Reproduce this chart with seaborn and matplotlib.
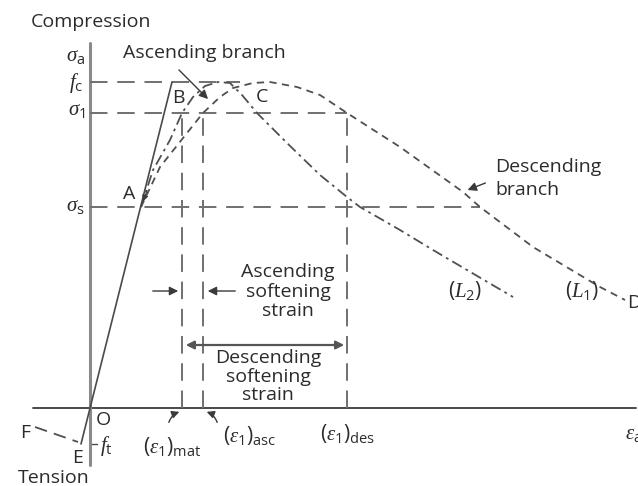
import matplotlib
matplotlib.use("Agg")
import matplotlib.pyplot as plt
import seaborn as sns
import pandas as pd

sns.set_theme(style="white")
plt.rcParams["font.family"] = ["Open Sans", "DejaVu Sans"]
plt.rcParams["mathtext.fontset"] = "custom"
plt.rcParams["mathtext.rm"] = "Open Sans"
plt.rcParams["mathtext.it"] = "Liberation Serif:italic"

# ---- schematic values (strain on x, stress on y; origin at O) ----
fc = 326
sigma_1 = 295
sigma_s = 201
ft = -36
eps_mat = 92
eps_asc = 113
eps_des = 257
point_A = (51, 201)

linear_x = [-9, 82]
linear_y = [-36, 326]
tension_x = [-55, -12]
tension_y = [-19, -34]

L2_x = [51, 63, 80, 92, 103, 115, 128, 140, 152, 167, 197, 230, 257, 270, 310, 343, 377, 423]
L2_y = [201, 238, 268, 295, 311, 322, 326, 325, 313, 295, 265, 233, 211, 201, 178, 158, 138, 111]

L1_x = [51, 70, 97, 113, 130, 143, 163, 180, 207, 230, 257, 310, 373, 390, 443, 510, 535]
L1_y = [201, 241, 275, 295, 311, 320, 325, 326, 321, 313, 295, 261, 216, 201, 161, 121, 108]

TXT = "#2b2b2b"
LINE = "#4a4a4a"
GRID = "#707070"

fig = plt.figure(figsize=(6.38, 4.86), dpi=100)
ax = fig.add_axes([0, 0, 1, 1])
ax.set_xlim(-90, 548)
ax.set_ylim(-78, 408)
ax.axis("off")

# axes
ax.plot([-57, 546], [0, 0], color="#3a3a3a", lw=1.3)
ax.plot([0, 0], [-57, 365], color="#8a8a8a", lw=2.2)

# reference dashed lines
dash = dict(color=GRID, lw=1.4, linestyle=(0, (9, 5)))
ax.plot([0, 150], [fc, fc], **dash)
ax.plot([0, eps_des], [sigma_1, sigma_1], **dash)
ax.plot([0, 390], [sigma_s, sigma_s], **dash)
for xv in (eps_mat, eps_asc, eps_des):
    ax.plot([xv, xv], [0, sigma_1], **dash)

# curves
df2 = pd.DataFrame({"x": L2_x, "y": L2_y})
df1 = pd.DataFrame({"x": L1_x, "y": L1_y})
sns.lineplot(data=df2, x="x", y="y", ax=ax, sort=False, estimator=None,
             color="#505050", lw=1.3, linestyle=(0, (6, 2.5, 1.5, 2.5)))
sns.lineplot(data=df1, x="x", y="y", ax=ax, sort=False, estimator=None,
             color="#505050", lw=1.3, linestyle=(0, (4, 3)))
sns.lineplot(x=linear_x, y=linear_y, ax=ax, sort=False, estimator=None,
             color=LINE, lw=1.2)
sns.lineplot(x=tension_x, y=tension_y, ax=ax, sort=False, estimator=None,
             color="#505050", lw=1.3, linestyle=(0, (7, 4)))
ax.plot([2, 7], [ft, ft], color=LINE, lw=1.0)

# arrows
arr = dict(arrowstyle="-|>", color="#3a3a3a", lw=1.0, mutation_scale=13)
ax.annotate("", xy=(120, 307), xytext=(87, 340), arrowprops=arr)
ax.annotate("", xy=(375, 217), xytext=(398, 226), arrowprops=arr)
ax.annotate("", xy=(91, 117), xytext=(60, 117), arrowprops=arr)
ax.annotate("", xy=(115, 117), xytext=(148, 117), arrowprops=arr)
ax.annotate("", xy=(93, 63), xytext=(257, 63),
            arrowprops=dict(arrowstyle="<|-|>", color="#555555", lw=1.6, mutation_scale=12))
ax.annotate("", xy=(92, -3), xytext=(78, -17),
            arrowprops=dict(arrowstyle="-|>", color="#3a3a3a", lw=1.0, mutation_scale=11,
                            connectionstyle="arc3,rad=-0.3"))
ax.annotate("", xy=(114, -3), xytext=(128, -17),
            arrowprops=dict(arrowstyle="-|>", color="#3a3a3a", lw=1.0, mutation_scale=11,
                            connectionstyle="arc3,rad=0.3"))
ax.annotate("", xy=(52, 204), xytext=(58, 220),
            arrowprops=dict(arrowstyle="-|>", color="#3a3a3a", lw=0.8, mutation_scale=9))

FS = 14
MS = 15
def t(x, y, s, ha="left", va="center", size=FS):
    ax.text(x, y, s, ha=ha, va=va, fontsize=size, color=TXT)

t(-59, 386, "Compression")
t(-5, 353, r"$\sigma_{\mathrm{a}}$", ha="right", size=MS)
t(-7, 325, r"$f_{\mathrm{c}}$", ha="right", size=MS)
t(-5, 298, r"$\sigma_{1}$", ha="right", size=MS)
t(-5, 203, r"$\sigma_{\mathrm{s}}$", ha="right", size=MS)
t(39, 214, "A", ha="center")
t(88, 310, "B", ha="center")
t(172, 311, "C", ha="center")
t(33, 355, "Ascending branch")
t(6, -12, "O")
t(-12, -50, "E", ha="center")
t(-65, -25, "F", ha="center")
t(-72, -70, "Tension")
t(10, -38, r"$f_{\mathrm{t}}$", size=MS)
t(198, 136, "Ascending", ha="center")
t(198, 116, "softening", ha="center")
t(198, 97, "strain", ha="center")
t(178, 50, "Descending", ha="center")
t(178, 31, "softening", ha="center")
t(178, 13, "strain", ha="center")
t(82, -38, r"$(\varepsilon_{1})_{\mathrm{mat}}$", ha="center", size=MS)
t(133, -27, r"$(\varepsilon_{1})_{\mathrm{asc}}$", size=MS)
t(230, -25, r"$(\varepsilon_{1})_{\mathrm{des}}$", size=MS)
t(535, -25, r"$\varepsilon_{\mathrm{a}}$", size=MS)
t(537, 105, "D")
t(375, 118, r"$(L_{2})$", ha="center", size=MS)
t(492, 118, r"$(L_{1})$", ha="center", size=MS)
t(405, 241, "Descending")
t(405, 218, "branch")

fig.savefig("out.png", dpi=100, facecolor="white")
